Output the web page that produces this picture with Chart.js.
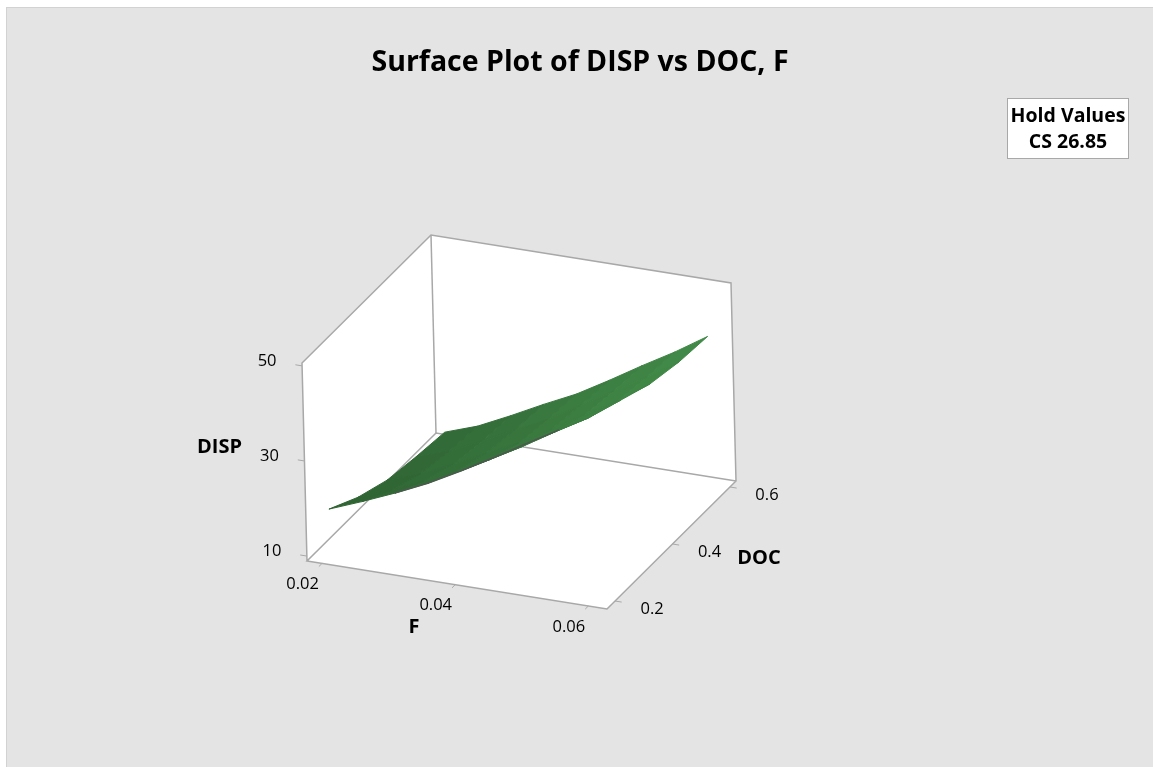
<!DOCTYPE html>
<html>
<head>
<meta charset="utf-8">
<title>Surface Plot of DISP vs DOC, F</title>
<script src="https://cdn.jsdelivr.net/npm/chart.js@4"></script>
<style>
  html, body { margin: 0; padding: 0; background: #fff; }
  body { width: 1153px; height: 767px; overflow: hidden; position: relative; }
  #panel { position: absolute; left: 6px; top: 7px; right: 0; bottom: 0; background: #e4e4e4; border: 1px solid #d2d2d2; border-right: 0; border-bottom: 0; }
  canvas { position: absolute; left: 0; top: 0; }
</style>
</head>
<body>
<div id="panel"></div>
<canvas id="chart" width="1153" height="767"></canvas>
<script>
// Values
const fValues = [0.02, 0.025, 0.03, 0.035, 0.04, 0.045, 0.05, 0.055, 0.06];
const docValues = [0.2, 0.3, 0.4, 0.5, 0.6];
const dispAtDoc02 = [18.7, 21.4, 24.3, 27.5, 31.2, 35.1, 39.2, 43.2, 47.6];
const dispAtDoc03 = [15.2, 17.8, 20.9, 24.1, 27.6, 31.5, 35.7, 39.7, 44.6];
const dispAtDoc04 = [12.8, 15.2, 18.4, 21.8, 25.1, 29.1, 33.3, 37.3, 42.0];
const dispAtDoc05 = [11.7, 14.0, 17.3, 20.7, 24.1, 28.1, 32.3, 36.3, 40.6];
const dispAtDoc06 = [10.9, 13.3, 16.6, 20.1, 23.4, 27.4, 31.6, 35.6, 40.0];
const dispRows = [dispAtDoc02, dispAtDoc03, dispAtDoc04, dispAtDoc05, dispAtDoc06];

const fTicks = ['0.02', '0.04', '0.06'];
const docTicks = ['0.2', '0.4', '0.6'];
const dispTicks = ['10', '30', '50'];

const fRange = [0.01774, 0.0628];
const docRange = [0.172, 0.621];
const dispRange = [8.96, 50.6];

// 3D box axes on screen (origin, then one vector per axis)
const origin = [307, 561];
const fVec = [300, 48];
const docVec = [129, -128];
const dispVec = [-5, -198];

function project(f, doc, disp) {
    const u = (f - fRange[0]) / (fRange[1] - fRange[0]);
    const v = (doc - docRange[0]) / (docRange[1] - docRange[0]);
    const w = (disp - dispRange[0]) / (dispRange[1] - dispRange[0]);
    return {
        x: origin[0] + u * fVec[0] + v * docVec[0] + w * dispVec[0],
        y: origin[1] + u * fVec[1] + v * docVec[1] + w * dispVec[1]
    };
}

function lineSet(points, extra) {
    return Object.assign({
        data: points, showLine: true, pointRadius: 0, tension: 0,
        borderColor: '#a8a8a8', borderWidth: 1.5, fill: false, order: 2
    }, extra);
}

function mix(a, b, t) {
    return 'rgb(' + a.map((c, i) => Math.round(c + (b[i] - c) * t)).join(',') + ')';
}

const [f0, f1] = fRange;
const [d0, d1] = docRange;
const [z0, z1] = dispRange;
const datasets = [];

// Surface cells
for (let j = 0; j < docValues.length - 1; j++) {
    for (let i = 0; i < fValues.length - 1; i++) {
        const color = mix([46, 98, 50], [67, 141, 74], (i + 0.5 + j * 0.5) / (fValues.length + 1));
        datasets.push(lineSet([
            project(fValues[i], docValues[j], dispRows[j][i]),
            project(fValues[i + 1], docValues[j], dispRows[j][i + 1]),
            project(fValues[i + 1], docValues[j + 1], dispRows[j + 1][i + 1]),
            project(fValues[i], docValues[j + 1], dispRows[j + 1][i]),
            project(fValues[i], docValues[j], dispRows[j][i])
        ], { fill: 'shape', backgroundColor: color, borderColor: color, borderWidth: 1, order: 1 }));
    }
}

// Dark underside along the front edge
datasets.push(lineSet(fValues.slice(2, 8).map((f, i) => project(f, docValues[0], dispAtDoc02[i + 2])), {
    borderColor: '#4b5a4d', borderWidth: 1.5, order: 0
}));

// Walls and floor
[
    [[f0, d0, z0], [f0, d0, z1], [f0, d1, z1], [f0, d1, z0]],
    [[f0, d1, z0], [f0, d1, z1], [f1, d1, z1], [f1, d1, z0]],
    [[f0, d0, z0], [f1, d0, z0], [f1, d1, z0], [f0, d1, z0]]
].forEach(c => {
    const pts = c.concat([c[0]]).map(p => project(p[0], p[1], p[2]));
    datasets.push(lineSet(pts, { fill: 'shape', backgroundColor: '#fff', borderColor: '#fff', borderWidth: 0, order: 4 }));
});

// Box edges
[
    [[f0, d0, z0], [f0, d0, z1], [f0, d1, z1], [f1, d1, z1], [f1, d1, z0], [f1, d0, z0], [f0, d0, z0], [f0, d1, z0], [f1, d1, z0]],
    [[f0, d1, z1], [f0, d1, z0]]
].forEach(c => datasets.push(lineSet(c.map(p => project(p[0], p[1], p[2])), { order: 3 })));

// Tick marks
const tickStyle = { borderWidth: 1, order: 3 };
fTicks.forEach(t => datasets.push(lineSet([project(+t, d0, z0), project(+t, d0 - 0.011, z0)], tickStyle)));
docTicks.forEach(t => datasets.push(lineSet([project(f1, +t, z0), project(f1 + 0.001, +t, z0)], tickStyle)));
dispTicks.forEach(t => datasets.push(lineSet([project(f0, d0, +t), project(f0 - 0.001, d0, +t)], tickStyle)));

const tickFont = '16.5px "Open Sans"';
const axisFont = 'bold 20px "Open Sans"';
const holdFont = 'bold 19.5px "Open Sans"';

// Title, axis text and hold box go on the canvas
const textPlugin = {
    id: 'surfaceText',
    afterDraw(chart) {
        const ctx = chart.ctx;
        const put = (text, x, y, font) => {
            ctx.font = font;
            ctx.fillText(text, x, y);
        };
        ctx.save();
        ctx.fillStyle = '#000';
        ctx.textAlign = 'center';
        ctx.textBaseline = 'middle';

        put('Surface Plot of DISP vs DOC, F', 580, 63, 'bold 28.5px "Open Sans"');

        fTicks.forEach(t => {
            const p = project(+t, d0, z0);
            put(t, p.x - 19.5, p.y + 21, tickFont);
        });
        docTicks.forEach(t => {
            const p = project(f1, +t, z0);
            put(t, p.x + 37, p.y + 8, tickFont);
        });
        dispTicks.forEach(t => {
            const p = project(f0, d0, +t);
            put(t, p.x - 35, p.y - 4.5, tickFont);
        });
        put('F', 414, 627, axisFont);
        put('DOC', 759, 558, axisFont);
        put('DISP', 219.5, 447, axisFont);

        ctx.fillStyle = '#fff';
        ctx.strokeStyle = '#a8a8a8';
        ctx.lineWidth = 1;
        ctx.fillRect(1007.5, 98.5, 121, 60);
        ctx.strokeRect(1007.5, 98.5, 121, 60);
        ctx.fillStyle = '#000';
        put('Hold Values', 1068, 116, holdFont);
        put('CS 26.85', 1068, 142, holdFont);
        ctx.restore();
    }
};

new Chart(document.getElementById('chart').getContext('2d'), {
    type: 'scatter',
    data: { datasets: datasets },
    options: {
        responsive: false,
        animation: false,
        layout: { padding: 0 },
        plugins: { legend: { display: false }, tooltip: { enabled: false } },
        scales: {
            x: { type: 'linear', display: false, min: 0, max: 1153 },
            y: { type: 'linear', display: false, min: 0, max: 767, reverse: true }
        }
    },
    plugins: [textPlugin]
});
</script>
</body>
</html>
